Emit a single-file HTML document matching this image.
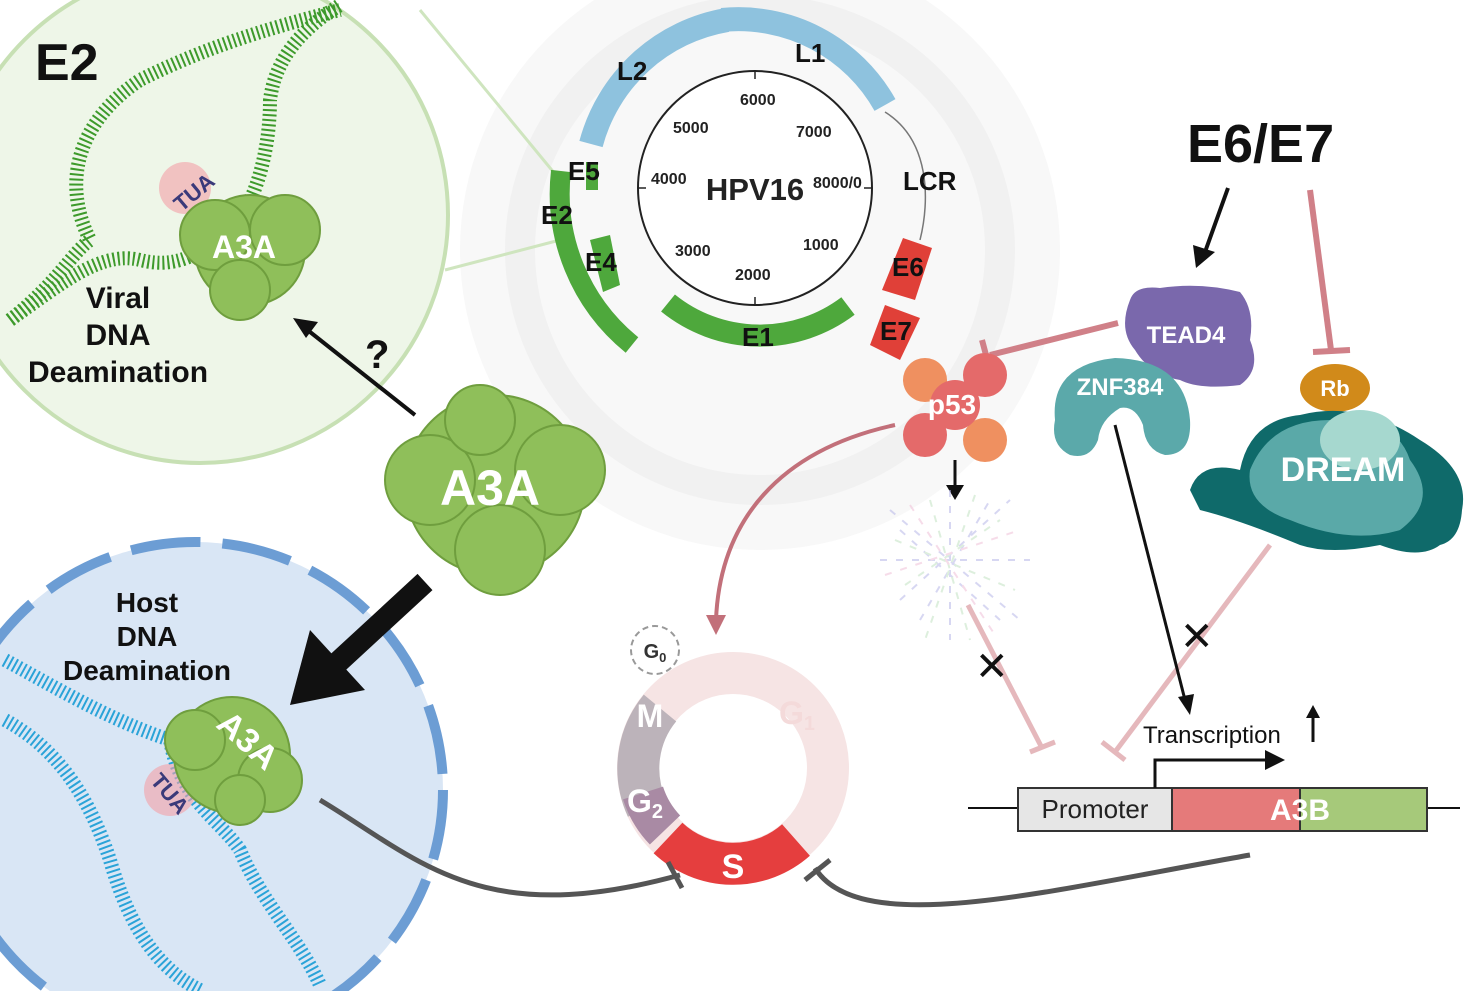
<!DOCTYPE html>
<html><head><meta charset="utf-8"><style>
html,body{margin:0;padding:0;background:#fff;width:1480px;height:991px;overflow:hidden}
svg text{font-family:"Liberation Sans",sans-serif;font-weight:bold}
</style></head><body>
<svg width="1480" height="991" viewBox="0 0 1480 991" xmlns="http://www.w3.org/2000/svg">
<rect width="1480" height="991" fill="#fff"/>
<!-- faded virus background -->
<circle cx="760" cy="250" r="300" fill="#f8f8f8"/>
<circle cx="760" cy="250" r="240" fill="none" stroke="#f1f1f1" stroke-width="30"/>
<!-- green viral region -->
<circle cx="200" cy="215" r="248" fill="#eef6e8" stroke="#c7e0b4" stroke-width="4"/>
<path d="M420 10 L560 180 M445 270 L560 240" stroke="#cfe5bf" stroke-width="3" fill="none"/>
<!-- blue host nucleus -->
<circle cx="195" cy="790" r="248" fill="#d9e6f5"/>
<circle cx="195" cy="790" r="248" fill="none" stroke="#6c9dd4" stroke-width="10" stroke-dasharray="70 22"/>
<!-- viral DNA green -->
<path d="M10 320 C60 285 100 250 140 260 C180 270 200 250 220 240 C250 220 270 160 270 100 C275 60 300 30 340 5" fill="none" stroke="#3d9a2b" stroke-width="14" stroke-dasharray="2 3"/>
<path d="M10 320 C60 280 70 255 90 240 C60 180 80 120 140 80 C200 50 260 30 340 10" fill="none" stroke="#3d9a2b" stroke-width="14" stroke-dasharray="2 3"/>
<!-- host DNA blue -->
<path d="M5 660 C60 690 110 720 170 740 C180 800 220 820 240 850 C260 900 300 940 320 985" fill="none" stroke="#2aa3d8" stroke-width="14" stroke-dasharray="2 3"/>
<path d="M5 720 C60 750 90 800 110 860 C130 930 160 970 200 990" fill="none" stroke="#2aa3d8" stroke-width="14" stroke-dasharray="2 3"/>
<!-- TUA glow -->
<circle cx="185" cy="188" r="26" fill="#f4a0a6" opacity="0.6"/>
<text x="168" y="205" font-size="22" fill="#3a3a7a" transform="rotate(-40 185 190)">TUA</text>
<circle cx="170" cy="790" r="26" fill="#f4a0a6" opacity="0.6"/>
<text x="150" y="800" font-size="22" fill="#3a3a7a" transform="rotate(50 170 790)">TUA</text>
<!-- A3A blobs -->
<g fill="#8fbf5a" stroke="#6f9e3e" stroke-width="2">
<circle cx="250" cy="250" r="55"/><circle cx="215" cy="235" r="35"/><circle cx="285" cy="230" r="35"/><circle cx="240" cy="290" r="30"/>
<circle cx="495" cy="485" r="90"/><circle cx="430" cy="480" r="45"/><circle cx="560" cy="470" r="45"/><circle cx="500" cy="550" r="45"/><circle cx="480" cy="420" r="35"/>
<circle cx="232" cy="755" r="58"/><circle cx="195" cy="740" r="30"/><circle cx="270" cy="780" r="32"/><circle cx="240" cy="800" r="25"/>
</g>
<text x="212" y="258" font-size="32" fill="#fff">A3A</text>
<text x="440" y="505" font-size="50" fill="#fff">A3A</text>
<text x="200" y="745" font-size="34" fill="#fff" transform="rotate(42 232 755)">A3A</text>
<text x="35" y="80" font-size="52" fill="#111">E2</text>
<text x="118" y="308" font-size="30" fill="#111" text-anchor="middle">Viral</text>
<text x="118" y="345" font-size="30" fill="#111" text-anchor="middle">DNA</text>
<text x="118" y="382" font-size="30" fill="#111" text-anchor="middle">Deamination</text>
<text x="147" y="612" font-size="28" fill="#111" text-anchor="middle">Host</text>
<text x="147" y="646" font-size="28" fill="#111" text-anchor="middle">DNA</text>
<text x="147" y="680" font-size="28" fill="#111" text-anchor="middle">Deamination</text>
<text x="365" y="368" font-size="40" fill="#111">?</text>
<line x1="415" y1="415" x2="305" y2="328" stroke="#111" stroke-width="4"/>
<polygon points="293,318 318,322 306,338" fill="#111"/>
<line x1="425" y1="582" x2="335" y2="665" stroke="#111" stroke-width="22"/>
<polygon points="290,705 310,630 365,690" fill="#111"/>
<!-- HPV16 genome -->
<circle cx="755" cy="188" r="117" fill="#fff" stroke="#222" stroke-width="2"/>
<g stroke="#222" stroke-width="1.5">
<line x1="755" y1="71" x2="755" y2="79"/><line x1="872" y1="188" x2="864" y2="188"/><line x1="755" y1="305" x2="755" y2="297"/><line x1="638" y1="188" x2="646" y2="188"/>
</g>
<text x="755" y="200" font-size="31" fill="#222" text-anchor="middle">HPV16</text>
<g font-size="16" fill="#222" style="font-weight:normal">
<text x="740" y="105">6000</text><text x="673" y="133">5000</text><text x="796" y="137">7000</text>
<text x="651" y="184">4000</text><text x="813" y="188">8000/0</text>
<text x="675" y="256">3000</text><text x="803" y="250">1000</text><text x="735" y="280">2000</text>
</g>
<g fill="none" stroke-linecap="butt">
<path d="M591 144 A170 170 0 0 1 727 20" stroke="#8ec2de" stroke-width="24"/>
<path d="M722 20 A168 168 0 0 1 885 105" stroke="#8ec2de" stroke-width="24"/>
<path d="M885 112 C930 140 930 200 920 240" stroke="#777" stroke-width="1.5"/>
<path d="M561 171 A195 195 0 0 0 632 345" stroke="#4ea83c" stroke-width="20"/>
<path d="M668 303 A146 146 0 0 0 848 306" stroke="#4ea83c" stroke-width="22"/>
<path d="M586 162 L598 162 L598 190 L586 190 Z" stroke="none" fill="#4ea83c"/>
<path d="M590 240 L610 235 L620 285 L603 292 Z" stroke="none" fill="#4ea83c"/>
</g>
<polygon points="903,238 932,248 915,300 882,290" fill="#e04038"/>
<polygon points="885,305 920,318 900,360 870,345" fill="#e04038"/>
<g font-size="26" fill="#111">
<text x="617" y="80">L2</text><text x="795" y="62">L1</text><text x="568" y="180">E5</text><text x="541" y="224">E2</text>
<text x="585" y="271">E4</text><text x="742" y="346">E1</text><text x="903" y="190">LCR</text>
<text x="892" y="276">E6</text><text x="880" y="340">E7</text>
</g>
<text x="1187" y="162" font-size="54" fill="#111">E6/E7</text>
<line x1="1228" y1="188" x2="1205" y2="252" stroke="#111" stroke-width="4"/>
<polygon points="1196,268 1193,245 1215,252" fill="#111"/>
<line x1="1310" y1="190" x2="1331" y2="350" stroke="#d08088" stroke-width="6"/>
<line x1="1313" y1="352" x2="1350" y2="350" stroke="#d08088" stroke-width="6"/>
<line x1="1118" y1="323" x2="990" y2="355" stroke="#d08088" stroke-width="6"/>
<line x1="982" y1="340" x2="990" y2="370" stroke="#d08088" stroke-width="6"/>
<!-- TEAD4 -->
<path d="M1130 300 Q1135 285 1160 288 Q1200 282 1240 292 Q1255 310 1250 340 Q1262 370 1240 385 Q1200 390 1180 380 Q1150 375 1135 350 Q1118 330 1130 300Z" fill="#7a68ac"/>
<text x="1186" y="343" font-size="24" fill="#fff" text-anchor="middle">TEAD4</text>
<!-- ZNF384 -->
<path d="M1055 420 Q1050 365 1115 358 Q1185 360 1190 420 Q1192 455 1165 455 Q1145 450 1143 425 Q1135 405 1120 408 Q1100 420 1098 440 Q1090 460 1070 455 Q1050 445 1055 420Z" fill="#5ba9aa"/>
<text x="1120" y="395" font-size="24" fill="#fff" text-anchor="middle">ZNF384</text>
<!-- p53 -->
<g fill="#ef9060"><circle cx="925" cy="380" r="22"/><circle cx="985" cy="440" r="22"/></g>
<g fill="#e46a6a"><circle cx="985" cy="375" r="22"/><circle cx="955" cy="405" r="25"/><circle cx="925" cy="435" r="22"/></g>
<text x="952" y="414" font-size="28" fill="#fff" text-anchor="middle">p53</text>
<line x1="955" y1="460" x2="955" y2="485" stroke="#111" stroke-width="3"/>
<polygon points="946,485 964,485 955,500" fill="#111"/>
<!-- degraded fragments -->
<g fill="none" stroke-width="2" opacity="0.55" stroke-dasharray="7 9">
<path d="M890 510 L1020 620 M900 600 L1010 500 M880 560 L1030 560 M950 490 L950 640 M900 530 L1000 620 M920 620 L990 500" stroke="#b8b8e8"/>
<path d="M895 540 L1015 590 M905 585 L1000 520 M930 500 L970 640 M975 495 L925 640" stroke="#c2e2c2"/>
<path d="M885 575 L1020 530 M910 505 L995 635" stroke="#f0c0d8"/>
</g>
<!-- Rb and DREAM -->
<ellipse cx="1335" cy="388" rx="35" ry="24" fill="#d18a1a"/>
<text x="1335" y="396" font-size="22" fill="#fff" text-anchor="middle">Rb</text>
<path d="M1190 490 Q1200 460 1240 470 Q1250 420 1300 415 Q1360 400 1420 440 Q1470 470 1462 510 Q1460 540 1440 545 Q1420 560 1380 545 Q1330 555 1300 545 Q1240 520 1200 510 Z" fill="#0f6a6a"/>
<path d="M1250 470 Q1270 420 1330 420 Q1395 415 1410 460 Q1440 500 1400 530 Q1350 545 1290 520 Q1245 505 1250 470Z" fill="#5aa9a8"/>
<ellipse cx="1360" cy="440" rx="40" ry="30" fill="#a6d8cf"/>
<text x="1343" y="481" font-size="34" fill="#fff" text-anchor="middle">DREAM</text>
<line x1="968" y1="605" x2="1042" y2="748" stroke="#e5b8bc" stroke-width="5"/>
<line x1="1030" y1="752" x2="1055" y2="742" stroke="#e5b8bc" stroke-width="5"/>
<line x1="1270" y1="545" x2="1115" y2="752" stroke="#e5b8bc" stroke-width="5"/>
<line x1="1102" y1="742" x2="1125" y2="760" stroke="#e5b8bc" stroke-width="5"/>
<text x="975" y="680" font-size="40" fill="#111" style="font-weight:normal">✕</text>
<text x="1180" y="650" font-size="40" fill="#111" style="font-weight:normal">✕</text>
<line x1="1115" y1="425" x2="1185" y2="700" stroke="#111" stroke-width="3"/>
<polygon points="1190,715 1178,697 1194,694" fill="#111"/>
<!-- promoter/gene -->
<line x1="968" y1="808" x2="1460" y2="808" stroke="#111" stroke-width="2"/>
<rect x="1018" y="788" width="154" height="43" fill="#e6e6e6" stroke="#333" stroke-width="2"/>
<rect x="1172" y="788" width="128" height="43" fill="#e57a7a" stroke="#333" stroke-width="2"/>
<rect x="1300" y="788" width="127" height="43" fill="#a6c97a" stroke="#333" stroke-width="2"/>
<text x="1095" y="818" font-size="26" fill="#222" text-anchor="middle" style="font-weight:normal">Promoter</text>
<text x="1300" y="820" font-size="30" fill="#fff" text-anchor="middle">A3B</text>
<path d="M1155 788 L1155 760 L1270 760" fill="none" stroke="#111" stroke-width="3"/>
<polygon points="1285,760 1265,750 1265,770" fill="#111"/>
<text x="1143" y="743" font-size="24" fill="#111" style="font-weight:normal">Transcription</text>
<line x1="1313" y1="742" x2="1313" y2="715" stroke="#111" stroke-width="3"/>
<polygon points="1313,705 1306,718 1320,718" fill="#111"/>
<!-- cell cycle -->
<circle cx="733" cy="768" r="95" fill="none" stroke="#f6e4e4" stroke-width="42"/>
<path d="M647 808 A95 95 0 0 1 660 708" fill="none" stroke="#bcb3ba" stroke-width="42"/>
<path d="M665 830 A95 95 0 0 1 643 793" fill="none" stroke="#a98aa4" stroke-width="42"/>
<path d="M796 840 A95 95 0 0 1 668 838" fill="none" stroke="#e53e3e" stroke-width="42"/>
<text x="733" y="878" font-size="34" fill="#fff" text-anchor="middle">S</text>
<text x="650" y="727" font-size="32" fill="#fff" text-anchor="middle">M</text>
<text x="645" y="812" font-size="32" fill="#fff" text-anchor="middle">G<tspan font-size="20" dy="6">2</tspan></text>
<text x="797" y="724" font-size="32" fill="#f4dada" text-anchor="middle">G<tspan font-size="20" dy="6">1</tspan></text>
<circle cx="655" cy="650" r="24" fill="none" stroke="#999" stroke-width="2" stroke-dasharray="6 4"/>
<text x="655" y="658" font-size="20" fill="#333" text-anchor="middle">G<tspan font-size="13" dy="4">0</tspan></text>
<path d="M895 425 C780 450 720 520 716 620" fill="none" stroke="#c2707a" stroke-width="4"/>
<polygon points="716,635 706,615 726,615" fill="#c2707a"/>
<path d="M320 800 C420 860 480 930 680 875" fill="none" stroke="#555" stroke-width="5"/>
<line x1="668" y1="862" x2="682" y2="888" stroke="#555" stroke-width="5"/>
<path d="M1250 855 C1050 890 860 940 815 868" fill="none" stroke="#555" stroke-width="5"/>
<line x1="805" y1="880" x2="830" y2="860" stroke="#555" stroke-width="5"/>
</svg>
</body></html>
